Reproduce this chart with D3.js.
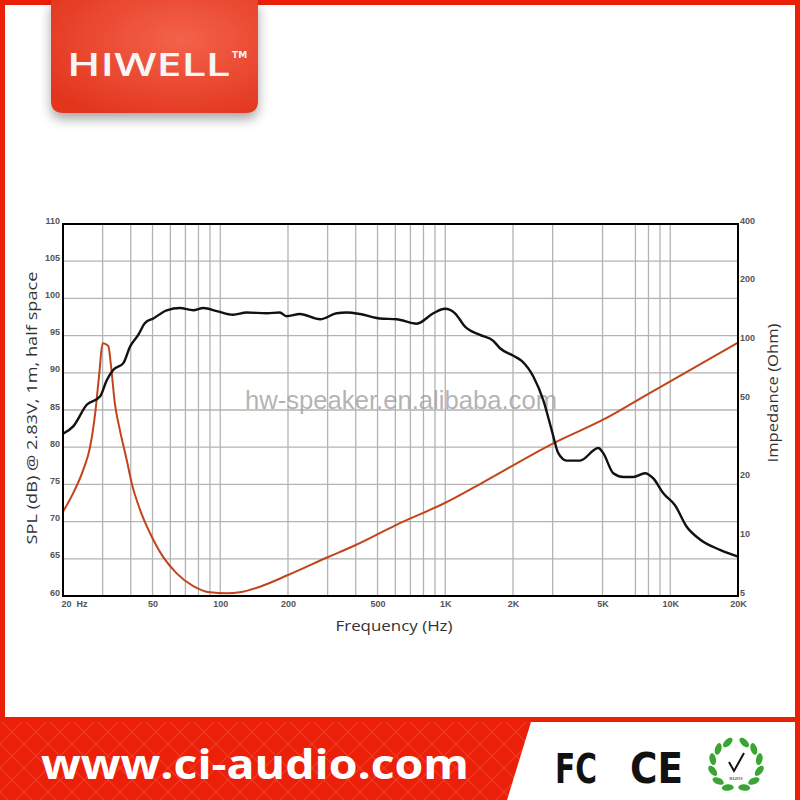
<!DOCTYPE html>
<html>
<head>
<meta charset="utf-8">
<script src="https://cdn.jsdelivr.net/npm/d3@7"></script>
<style>
  html, body { margin: 0; padding: 0; background: #fff; }
  svg { display: block; }
</style>
</head>
<body>
<svg id="chart" width="800" height="800"></svg>
<script>
// ---------- data ----------
const freqGrid = [20,30,40,50,60,70,80,90,100,200,300,400,500,600,700,800,900,1000,2000,3000,5000,7000,8000,9000,10000,20000];
const freqTicks = [20,50,100,200,500,1000,2000,5000,10000,20000];
const freqTickLabels = ["20  Hz","50","100","200","500","1K","2K","5K","10K","20K"];
const splTicks = [60,65,70,75,80,85,90,95,100,105,110];
const impTicks = [5,10,20,50,100,200,400];

const splFreq = [20,22.2,25.5,29.2,31.3,33.5,37.1,39.7,43.2,46.3,50.4,57.8,66.2,75.9,84.1,96.4,114,131,161,184,197,226,278,329,365,418,513,608,747,885,997,1105,1224,1427,1635,1751,2006,2186,2462,2728,2972,3180,3466,3972,4787,5038,5582,6186,6850,7722,8408,9312,10496,11832,13558,16636,20000];
const splDb = [81.8,82.8,85.7,86.8,89.0,90.4,91.3,93.5,95.1,96.7,97.3,98.4,98.7,98.4,98.7,98.3,97.8,98.1,98.0,98.1,97.6,97.9,97.2,98.0,98.1,97.9,97.3,97.2,96.6,98.0,98.6,98.0,96.2,95.1,94.3,93.3,92.3,91.6,89.5,86.3,82.3,79.2,78.2,78.2,79.9,79.2,76.5,76.0,76.0,76.5,75.8,73.8,72.2,69.3,67.6,66.2,65.3];

const impFreq = [20,22.2,24.6,26.4,27.8,29.0,30.0,31.8,32.6,34.0,35.8,38.4,40.4,44.0,48.7,55.8,64.0,75.9,90,107,122,150,200,300,400,600,1000,1427,3022,5050,7854,20000];
const impOhm = [13.5,16.8,22.1,29.0,43.0,68.9,98.2,95.1,77.5,48.4,35.3,24.8,18.9,13.8,10.5,7.9,6.53,5.62,5.22,5.16,5.22,5.58,6.40,7.89,9.12,11.5,15.0,18.7,30.2,40.0,53.5,98.8];

// ---------- layout ----------
const svg = d3.select("#chart");
const W = 800, H = 800;
const plot = {left: 63, right: 738, top: 224, bottom: 596};

const defs = svg.append("defs");
const rg = defs.append("radialGradient").attr("id","logoGrad").attr("cx","62%").attr("cy","35%").attr("r","75%");
rg.append("stop").attr("offset","0%").attr("stop-color","#f4624a");
rg.append("stop").attr("offset","100%").attr("stop-color","#e2361f");
const sh = defs.append("filter").attr("id","shadow").attr("x","-20%").attr("y","-20%").attr("width","140%").attr("height","150%");
sh.append("feDropShadow").attr("dx",0).attr("dy",6).attr("stdDeviation",6).attr("flood-color","#000").attr("flood-opacity",0.35);
const pat = defs.append("pattern").attr("id","diamonds").attr("patternUnits","userSpaceOnUse").attr("width",24).attr("height",24);
pat.append("path").attr("d","M0,0 L24,24 M24,0 L0,24").attr("stroke","rgba(255,255,255,0.13)").attr("stroke-width",1.2);

// frame & backgrounds
svg.append("rect").attr("x",0).attr("y",0).attr("width",W).attr("height",H).attr("fill","#ec1f08");
svg.append("rect").attr("x",5).attr("y",5).attr("width",790).attr("height",712).attr("fill","#fff");

// logo
svg.append("path")
  .attr("d","M51,0 H258 V101 Q258,113 246,113 H63 Q51,113 51,101 Z")
  .attr("fill","url(#logoGrad)").attr("filter","url(#shadow)");
svg.append("text").attr("x",67).attr("y",76)
  .attr("textLength",163).attr("lengthAdjust","spacingAndGlyphs")
  .attr("font-family","'Open Sans', 'DejaVu Sans', sans-serif").attr("font-weight",600)
  .attr("font-size",32).attr("fill","#f6f6f6").text("HIWELL");
svg.append("text").attr("x",232).attr("y",58)
  .attr("font-family","'DejaVu Sans', sans-serif").attr("font-weight","bold")
  .attr("font-size",9).attr("fill","#f6f6f6").text("TM");

// scales
const x = d3.scaleLog().domain([20,20000]).range([plot.left, plot.right]);
const ySpl = d3.scaleLinear().domain([60,110]).range([plot.bottom, plot.top]);
const yImp = d3.scaleLog().domain([5,400]).range([plot.bottom, plot.top]);

// grid
const g = svg.append("g");
g.append("g").selectAll("line").data(freqGrid).join("line")
  .attr("x1",d=>x(d)).attr("x2",d=>x(d)).attr("y1",plot.top).attr("y2",plot.bottom)
  .attr("stroke","#b3b3b3").attr("stroke-width",1.3);
g.append("g").selectAll("line").data(splTicks).join("line")
  .attr("x1",plot.left).attr("x2",plot.right).attr("y1",d=>ySpl(d)).attr("y2",d=>ySpl(d))
  .attr("stroke","#b3b3b3").attr("stroke-width",1.3);

// watermark
svg.append("text").attr("x",245).attr("y",409)
  .attr("textLength",312).attr("lengthAdjust","spacingAndGlyphs")
  .attr("font-family","'Liberation Sans', Arial, sans-serif").attr("font-size",25)
  .attr("fill","#9a9a9a").attr("fill-opacity",0.75).text("hw-speaker.en.alibaba.com");

// axes (labels only)
const tickFont = "'Liberation Sans', Arial, sans-serif";
const axL = d3.axisLeft(ySpl).tickValues(splTicks).tickSize(0).tickPadding(3).tickFormat(d3.format("d"));
const gL = svg.append("g").attr("transform",`translate(${plot.left},0)`).call(axL);
const axR = d3.axisRight(yImp).tickValues(impTicks).tickSize(0).tickPadding(2).tickFormat(d3.format("d"));
const gR = svg.append("g").attr("transform",`translate(${plot.right},0)`).call(axR);
const axB = d3.axisBottom(x).tickValues(freqTicks).tickSize(0).tickPadding(5).tickFormat((d,i)=>freqTickLabels[i]);
const gB = svg.append("g").attr("transform",`translate(0,${plot.bottom})`).call(axB);
[gL,gR,gB].forEach(a=>{
  a.select(".domain").remove();
  a.selectAll("text").attr("font-family",tickFont).attr("font-size",9).attr("font-weight","bold").attr("fill","#555");
});
gL.selectAll("text").attr("dy","-0.1em");
gR.selectAll("text").attr("dy","-0.1em");
gB.selectAll("text").filter((d,i)=>i===0).attr("text-anchor","start").attr("dx",-2).style("white-space","pre");

// curves
const splPts = splFreq.map((f,i)=>[x(f), ySpl(splDb[i])]);
const impPts = impFreq.map((f,i)=>[x(f), yImp(impOhm[i])]);
const line = d3.line().curve(d3.curveMonotoneX);
svg.append("path").attr("d",line(impPts)).attr("fill","none")
  .attr("stroke","#c2441b").attr("stroke-width",2);
svg.append("path").attr("d",line(splPts)).attr("fill","none")
  .attr("stroke","#111").attr("stroke-width",2.4).attr("stroke-linejoin","round");

// frame
svg.append("rect").attr("x",plot.left).attr("y",plot.top)
  .attr("width",plot.right-plot.left).attr("height",plot.bottom-plot.top)
  .attr("fill","none").attr("stroke","#000").attr("stroke-width",2);

// axis titles
const titleFont = "'Open Sans', 'DejaVu Sans', sans-serif";
svg.append("text").attr("transform","translate(37,408) rotate(-90)")
  .attr("text-anchor","middle").attr("font-family",titleFont).attr("font-size",15).attr("fill","#333")
  .attr("textLength",273).attr("lengthAdjust","spacingAndGlyphs")
  .text("SPL (dB) @ 2.83V, 1m, half space");
svg.append("text").attr("x",394).attr("y",631)
  .attr("text-anchor","middle").attr("font-family",titleFont).attr("font-size",15).attr("fill","#333")
  .attr("textLength",117).attr("lengthAdjust","spacingAndGlyphs")
  .text("Frequency (Hz)");
svg.append("text").attr("transform","translate(778,393) rotate(-90)")
  .attr("text-anchor","middle").attr("font-family",titleFont).attr("font-size",15).attr("fill","#333")
  .attr("textLength",139).attr("lengthAdjust","spacingAndGlyphs")
  .text("Impedance (Ohm)");

// footer
svg.append("rect").attr("x",0).attr("y",722).attr("width",540).attr("height",78).attr("fill","url(#diamonds)");
svg.append("polygon").attr("points","531,722 795,722 795,800 507,800").attr("fill","#fff");
svg.append("text").attr("x",41).attr("y",779)
  .attr("textLength",428).attr("lengthAdjust","spacingAndGlyphs")
  .attr("font-family","'Open Sans', 'DejaVu Sans', sans-serif").attr("font-weight",700)
  .attr("font-size",42).attr("fill","#fff").text("www.ci-audio.com");
svg.append("text").attr("x",555).attr("y",783)
  .attr("textLength",42).attr("lengthAdjust","spacingAndGlyphs")
  .attr("font-family","'DejaVu Sans', sans-serif").attr("font-weight","bold")
  .attr("font-size",40).attr("fill","#111").text("FC");
svg.append("text").attr("x",630).attr("y",783)
  .attr("textLength",53).attr("lengthAdjust","spacingAndGlyphs")
  .attr("font-family","'DejaVu Sans', sans-serif").attr("font-weight","bold")
  .attr("font-size",42).attr("fill","#111").text("CE");

// RoHS wreath
const rohs = svg.append("g").attr("transform","translate(736,765)");
[-1,1].forEach(side=>{
  d3.range(0,6).forEach(k=>{
    const a = (-70 + k*28) * Math.PI/180;
    const cx = side*24*Math.cos(a), cy = 24*Math.sin(a);
    rohs.append("ellipse").attr("cx",cx).attr("cy",cy).attr("rx",3.2).attr("ry",6)
      .attr("transform",`rotate(${side*(k*28-70)+side*25},${cx},${cy})`)
      .attr("fill","#3aa533");
  });
});
rohs.append("path").attr("d","M-7,-3 L-2,6 L8,-12").attr("fill","none").attr("stroke","#111").attr("stroke-width",2);
rohs.append("text").attr("x",0).attr("y",15).attr("text-anchor","middle")
  .attr("font-family","'Liberation Serif', serif").attr("font-size",5).attr("fill","#111").text("ROHS");
</script>
</body>
</html>
